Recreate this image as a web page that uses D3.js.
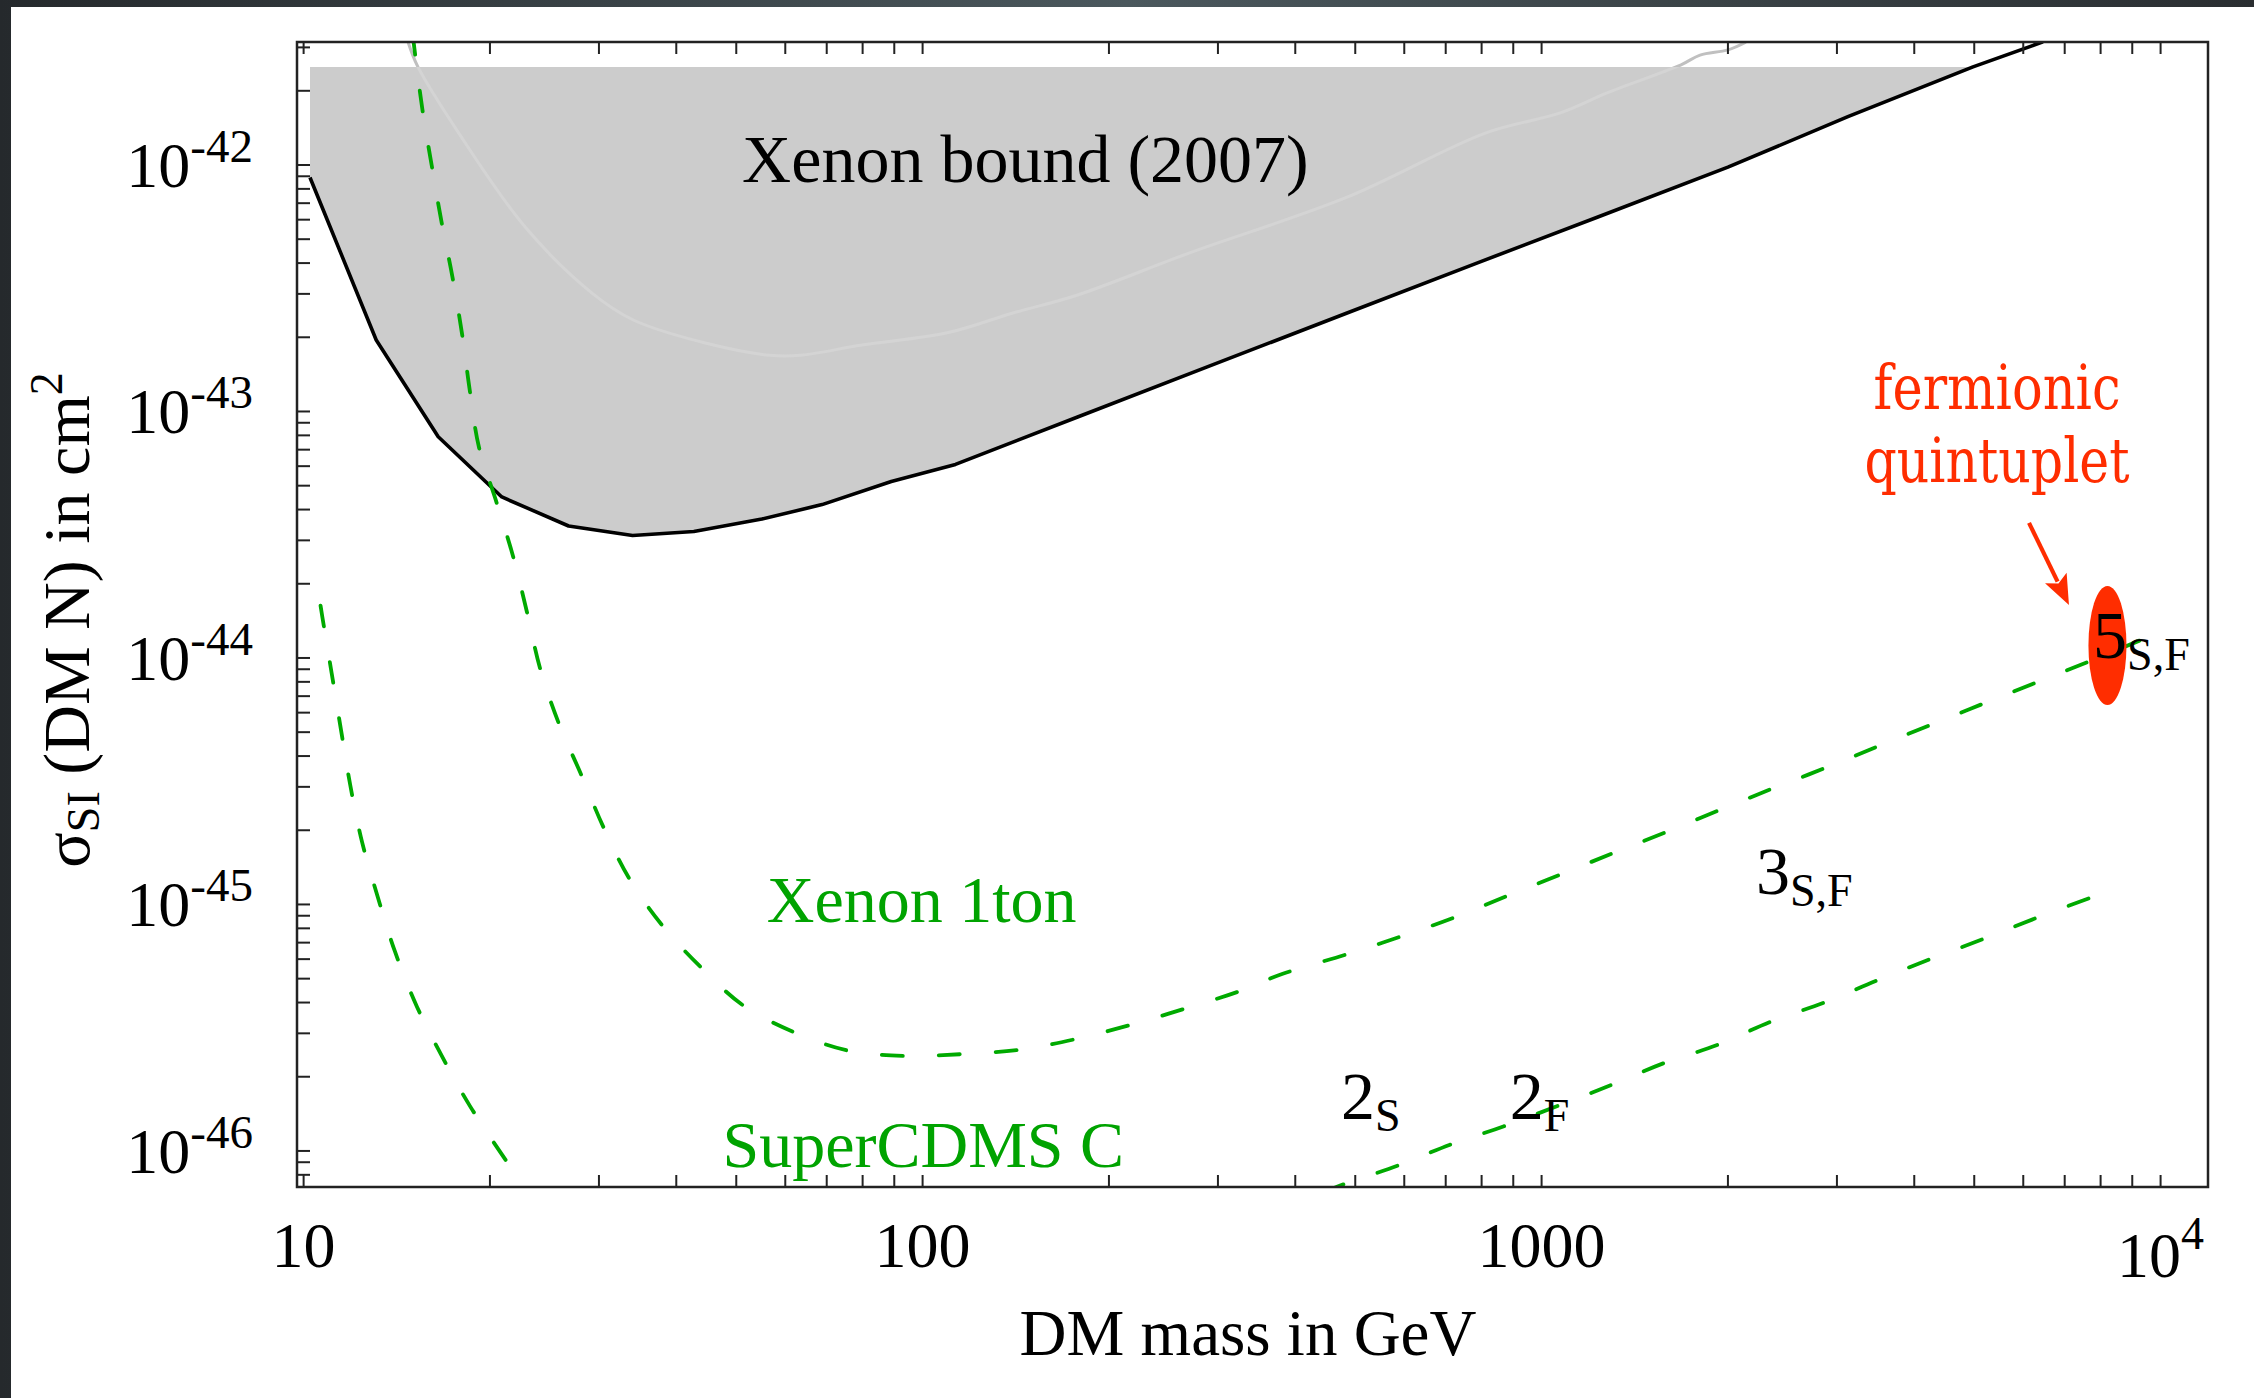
<!DOCTYPE html>
<html>
<head>
<meta charset="utf-8">
<script src="https://cdn.jsdelivr.net/npm/d3@7"></script>
<style>
  html, body { margin: 0; padding: 0; background: #2c3034; }
  svg { display: block; }
</style>
</head>
<body>
<svg id="chart" width="2254" height="1398"></svg>
<script>
// ---------- data (DM mass in GeV, cross section in cm^2) ----------
// Xenon10 2007 exclusion limit
const xenon2007Mass  = [10.24, 13.1, 16.5, 20.9, 26.8, 34.0, 42.7, 55, 68.8, 89, 113, 178, 289, 485, 786, 1233, 2000, 3125, 4977, 6457];
const xenon2007Sigma = [8.9e-43, 1.95e-43, 7.9e-44, 4.5e-44, 3.43e-44, 3.14e-44, 3.26e-44, 3.66e-44, 4.19e-44, 5.2e-44, 6.1e-44, 9.5e-44, 1.52e-43, 2.51e-43, 4.0e-43, 6.15e-43, 9.8e-43, 1.57e-42, 2.5e-42, 3.16e-42];
const excludedTop = 2.5e-42;

// faint older limit inside the excluded band
const oldLimitMass  = [14.75, 15.3, 17.8, 22.8, 29.2, 34.1, 44.4, 56.7, 63.4, 79.8, 110, 140, 178, 270, 485, 813, 1075, 1276, 1680, 1803, 2000, 2138];
const oldLimitSigma = [3.15e-42, 2.5e-42, 1.35e-42, 5.6e-43, 3.03e-43, 2.35e-43, 1.9e-43, 1.69e-43, 1.69e-43, 1.86e-43, 2.09e-43, 2.51e-43, 2.97e-43, 4.4e-43, 7.4e-43, 1.35e-42, 1.63e-42, 1.96e-42, 2.55e-42, 2.79e-42, 2.93e-42, 3.15e-42];

// Xenon 1ton projected sensitivity
const xenon1tonMass  = [15.0, 15.55, 16.1, 16.7, 17.4, 18.03, 18.57, 19.2, 20.5, 21.8, 22.96, 24.1, 25.8, 28.1, 30.5, 33.6, 38.0, 43.9, 51.4, 62.0, 75.9, 93.7, 115.7, 142.8, 176.3, 216.3, 265.4, 325.3, 380.8, 484.8, 594, 726.3, 884.8, 1079, 1315, 1600, 1949, 2374, 2897, 3530, 4294, 5236, 6387, 7786, 9723];
const xenon1tonSigma = [3.4e-42, 1.69e-42, 1.0e-42, 5.89e-43, 3.5e-43, 2.06e-43, 1.2e-43, 7.16e-44, 4.27e-44, 2.58e-44, 1.53e-44, 9.08e-45, 5.48e-45, 3.35e-45, 2.06e-45, 1.27e-45, 8.2e-46, 5.54e-46, 3.88e-46, 3.03e-46, 2.55e-46, 2.43e-46, 2.47e-46, 2.57e-46, 2.84e-46, 3.24e-46, 3.78e-46, 4.45e-46, 5.22e-46, 6.28e-46, 7.43e-46, 8.9e-46, 1.09e-45, 1.33e-45, 1.63e-45, 1.98e-45, 2.43e-45, 2.97e-45, 3.61e-45, 4.43e-45, 5.41e-45, 6.61e-45, 8.07e-45, 9.84e-45, 1.24e-44];

// SuperCDMS C projected sensitivity (minimum lies below the plotted range)
const cdmsLowMass   = [10.65, 10.72, 11.1, 11.49, 11.9, 12.43, 13.18, 14.05, 15.25, 16.72, 18.57, 21.29];
const cdmsLowSigma  = [1.63e-44, 1.47e-44, 8.67e-45, 5.12e-45, 3.03e-45, 1.79e-45, 1.07e-45, 6.43e-46, 3.84e-46, 2.43e-46, 1.52e-46, 9.05e-47];
const cdmsHighMass  = [445, 478.6, 586.8, 711.2, 869.5, 1294, 1575, 1922, 2342, 2859, 3477, 4246, 5170, 6297, 7980];
const cdmsHighSigma = [6.8e-47, 7.32e-47, 8.73e-47, 1.06e-46, 1.26e-46, 1.85e-46, 2.27e-46, 2.69e-46, 3.34e-46, 4.0e-46, 4.91e-46, 6.01e-46, 7.24e-46, 8.81e-46, 1.10e-45];

// fermionic quintuplet prediction region
const quintupletMass  = [7646, 8808];
const quintupletSigma = [6.45e-45, 1.96e-44];
const arrowFrom = [6130, 3.53e-44];
const arrowTo   = [7112, 1.64e-44];

// multiplet labels: [main, subscript, mass, sigma]
const multipletLabels = [
  ["2", "S",   474,  1.353e-46],
  ["2", "F",   888,  1.353e-46],
  ["3", "S,F", 2220, 1.104e-45],
  ["5", "S,F", 7779, 1.0e-44]
];

// axis ticks
const xMajorTicks  = [10, 100, 1000, 10000];
const xTickLabels  = [["10", ""], ["100", ""], ["1000", ""], ["10", "4"]];
const yMajorTicks  = [1e-42, 1e-43, 1e-44, 1e-45, 1e-46];
const yTickLabels  = ["-42", "-43", "-44", "-45", "-46"];

// ---------- layout ----------
const W = 2254, H = 1398;
const plot = { left: 297, top: 42, right: 2208, bottom: 1187 };

const svg = d3.select("#chart");

// slide background and white panel
const bg = svg.append("defs").append("linearGradient").attr("id", "slate")
  .attr("x1", 0).attr("x2", 1).attr("y1", 0).attr("y2", 0);
bg.append("stop").attr("offset", "0%").attr("stop-color", "#25292c");
bg.append("stop").attr("offset", "50%").attr("stop-color", "#4b585d");
bg.append("stop").attr("offset", "100%").attr("stop-color", "#2a2e31");
svg.append("rect").attr("width", W).attr("height", H).attr("fill", "url(#slate)");
svg.append("rect").attr("x", 11).attr("y", 7).attr("width", W - 11).attr("height", H - 7).attr("fill", "#fff");

const x = d3.scaleLog().domain([9.757, 11929]).range([plot.left, plot.right]);
const y = d3.scaleLog().domain([7.14e-47, 3.155e-42]).range([plot.bottom, plot.top]);

svg.append("clipPath").attr("id", "plotClip").append("rect")
  .attr("x", plot.left).attr("y", plot.top)
  .attr("width", plot.right - plot.left).attr("height", plot.bottom - plot.top);
svg.append("clipPath").attr("id", "aboveBand").append("rect")
  .attr("x", plot.left).attr("y", plot.top)
  .attr("width", plot.right - plot.left).attr("height", y(excludedTop) - plot.top);
svg.append("clipPath").attr("id", "insideBand").append("rect")
  .attr("x", plot.left).attr("y", y(excludedTop))
  .attr("width", plot.right - plot.left).attr("height", plot.bottom - y(excludedTop));

const g = svg.append("g").attr("clip-path", "url(#plotClip)");

const zip = (ms, ss) => ms.map((m, i) => [m, ss[i]]);
const xenon2007 = zip(xenon2007Mass, xenon2007Sigma);

// excluded region: between the Xenon 2007 limit and the band top
const excluded = xenon2007.filter(d => d[1] <= excludedTop);
g.append("path")
  .datum(excluded)
  .attr("d", d3.area().x(d => x(d[0])).y0(() => y(excludedTop)).y1(d => y(d[1])))
  .attr("fill", "#cccccc");

// faint older limit (lighter inside the grey band, grey above it)
const smooth = d3.line().x(d => x(d[0])).y(d => y(d[1])).curve(d3.curveCatmullRom.alpha(0.5));
const oldLimit = zip(oldLimitMass, oldLimitSigma);
g.append("g").attr("clip-path", "url(#insideBand)").append("path")
  .datum(oldLimit).attr("d", smooth).attr("fill", "none")
  .attr("stroke", "#d4d4d4").attr("stroke-width", 3);
g.append("g").attr("clip-path", "url(#aboveBand)").append("path")
  .datum(oldLimit).attr("d", smooth).attr("fill", "none")
  .attr("stroke", "#c0c0c0").attr("stroke-width", 3);

// Xenon 2007 limit line
g.append("path")
  .datum(xenon2007)
  .attr("d", d3.line().x(d => x(d[0])).y(d => y(d[1])))
  .attr("fill", "none").attr("stroke", "#000").attr("stroke-width", 3.6)
  .attr("stroke-linejoin", "round");

// projected sensitivities (green dashed)
const green = "#00aa00";
[zip(xenon1tonMass, xenon1tonSigma), zip(cdmsLowMass, cdmsLowSigma), zip(cdmsHighMass, cdmsHighSigma)]
  .forEach(curve => {
    g.append("path").datum(curve).attr("d", smooth)
      .attr("fill", "none").attr("stroke", green).attr("stroke-width", 3.8)
      .attr("stroke-dasharray", "21,36").attr("stroke-linecap", "round");
  });

// quintuplet ellipse
const red = "#ff2d00";
g.append("ellipse")
  .attr("cx", (x(quintupletMass[0]) + x(quintupletMass[1])) / 2)
  .attr("cy", (y(quintupletSigma[0]) + y(quintupletSigma[1])) / 2)
  .attr("rx", Math.abs(x(quintupletMass[1]) - x(quintupletMass[0])) / 2)
  .attr("ry", Math.abs(y(quintupletSigma[0]) - y(quintupletSigma[1])) / 2)
  .attr("fill", red);

// ---------- frame and ticks ----------
const axes = svg.append("g");
const xTicks = [], yTicks = [];
for (let e = 1; e <= 4; e++) for (let k = 1; k <= 9; k++) {
  const v = k * Math.pow(10, e);
  if (v >= x.domain()[0] && v <= x.domain()[1]) xTicks.push(v);
}
for (let e = -47; e <= -42; e++) for (let k = 1; k <= 9; k++) {
  const v = k * Math.pow(10, e);
  if (v >= y.domain()[0] && v <= y.domain()[1]) yTicks.push(v);
}
const tickLen = 12, tickColor = "#222";
axes.selectAll(".xb").data(xTicks).enter().append("line")
  .attr("x1", d => x(d)).attr("x2", d => x(d))
  .attr("y1", plot.bottom).attr("y2", plot.bottom - tickLen)
  .attr("stroke", tickColor).attr("stroke-width", 2);
axes.selectAll(".xt").data(xTicks).enter().append("line")
  .attr("x1", d => x(d)).attr("x2", d => x(d))
  .attr("y1", plot.top).attr("y2", plot.top + tickLen)
  .attr("stroke", tickColor).attr("stroke-width", 2);
axes.selectAll(".yl").data(yTicks).enter().append("line")
  .attr("y1", d => y(d)).attr("y2", d => y(d))
  .attr("x1", plot.left).attr("x2", plot.left + 13)
  .attr("stroke", tickColor).attr("stroke-width", 2);
axes.append("rect")
  .attr("x", plot.left).attr("y", plot.top)
  .attr("width", plot.right - plot.left).attr("height", plot.bottom - plot.top)
  .attr("fill", "none").attr("stroke", "#222").attr("stroke-width", 2.5);

const serif = "'Liberation Serif', 'Times New Roman', serif";

// x tick labels
xMajorTicks.forEach((v, i) => {
  const [base, sup] = xTickLabels[i];
  const t = axes.append("text")
    .attr("x", x(v)).attr("y", sup ? 1277 : 1267)
    .attr("text-anchor", "middle")
    .attr("font-family", serif).attr("font-size", 64).attr("fill", "#000")
    .text(base);
  if (sup) t.append("tspan").attr("font-size", 46).attr("dy", -28).text(sup);
});

// y tick labels
yMajorTicks.forEach((v, i) => {
  const t = axes.append("text")
    .attr("x", 253).attr("y", y(v) + 22)
    .attr("text-anchor", "end")
    .attr("font-family", serif).attr("font-size", 64).attr("fill", "#000")
    .text("10");
  t.append("tspan").attr("font-size", 47).attr("dy", -25).text(yTickLabels[i]);
});

// axis titles
svg.append("text")
  .attr("x", 1248).attr("y", 1355).attr("text-anchor", "middle")
  .attr("font-family", serif).attr("font-size", 65).attr("fill", "#000")
  .text("DM mass in GeV");

const yt = svg.append("text")
  .attr("transform", "translate(89,620) rotate(-90)")
  .attr("text-anchor", "middle")
  .attr("font-family", serif).attr("font-size", 66).attr("fill", "#000");
yt.append("tspan").text("σ");
yt.append("tspan").attr("font-size", 46).attr("dy", 10).text("SI");
yt.append("tspan").attr("dy", -10).text(" (DM N) in cm");
yt.append("tspan").attr("font-size", 46).attr("dy", -27).text("2");

// ---------- annotations ----------
svg.append("text")
  .attr("x", x(51.1)).attr("y", y(8.53e-43))
  .attr("font-family", serif).attr("font-size", 68).attr("fill", "#000")
  .text("Xenon bound (2007)");
svg.append("text")
  .attr("x", x(56.0)).attr("y", y(8.5e-46))
  .attr("font-family", serif).attr("font-size", 66).attr("fill", "#00a300")
  .text("Xenon 1ton");
svg.append("text")
  .attr("x", x(47.5)).attr("y", y(8.63e-47))
  .attr("font-family", serif).attr("font-size", 66).attr("fill", "#00a300")
  .text("SuperCDMS C");

multipletLabels.forEach(([main, sub, m, s]) => {
  const t = svg.append("text")
    .attr("x", x(m)).attr("y", y(s))
    .attr("font-family", serif).attr("font-size", 68).attr("fill", "#000")
    .text(main);
  t.append("tspan").attr("font-size", 46).attr("dy", 12).text(sub);
});

// fermionic quintuplet callout
const typewriter = "'DejaVu Serif', serif";
[["fermionic", 1.02e-43, 247], ["quintuplet", 5.16e-44, 265]].forEach(([word, s, len]) => {
  svg.append("text")
    .attr("x", x(5442)).attr("y", y(s))
    .attr("text-anchor", "middle")
    .attr("font-family", typewriter).attr("font-size", 62).attr("fill", red)
    .attr("textLength", len).attr("lengthAdjust", "spacingAndGlyphs")
    .text(word);
});

const ax0 = x(arrowFrom[0]), ay0 = y(arrowFrom[1]);
const ax1 = x(arrowTo[0]),   ay1 = y(arrowTo[1]);
const ang = Math.atan2(ay1 - ay0, ax1 - ax0);
const headLen = 30, headHalf = 12;
const bx = ax1 - headLen * Math.cos(ang), by = ay1 - headLen * Math.sin(ang);
svg.append("line")
  .attr("x1", ax0).attr("y1", ay0).attr("x2", bx + 4 * Math.cos(ang)).attr("y2", by + 4 * Math.sin(ang))
  .attr("stroke", red).attr("stroke-width", 4.2);
svg.append("path")
  .attr("d", d3.line()([
    [ax1, ay1],
    [bx + headHalf * Math.sin(ang), by - headHalf * Math.cos(ang)],
    [bx + 6 * Math.cos(ang), by + 6 * Math.sin(ang)],
    [bx - headHalf * Math.sin(ang), by + headHalf * Math.cos(ang)]
  ]) + "Z")
  .attr("fill", red);
</script>
</body>
</html>
